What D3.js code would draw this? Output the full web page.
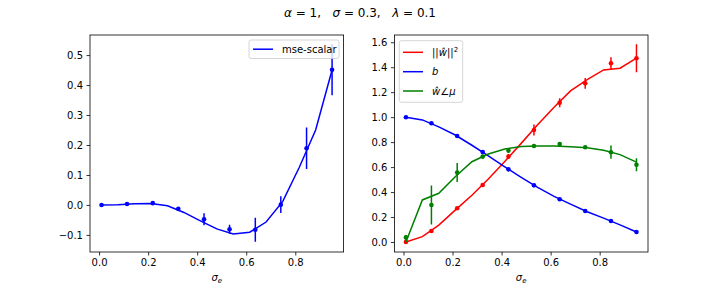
<!DOCTYPE html>
<html>
<head>
<meta charset="utf-8">
<script src="https://cdn.jsdelivr.net/npm/d3@7"></script>
<style>
  body { margin: 0; background: #fff; }
  text { font-family: "DejaVu Sans", sans-serif; }
</style>
</head>
<body>
<div id="chart"></div>
<script>
// sigma_e grid for theory curves and for the simulated points
const lineX = [0.01, 0.077, 0.144, 0.211, 0.279, 0.346, 0.413, 0.48, 0.547, 0.614, 0.681, 0.749, 0.816, 0.883, 0.95];
const pointX = [0.01, 0.114, 0.219, 0.323, 0.428, 0.532, 0.637, 0.741, 0.846, 0.95];

// left panel: mse-scalar
const mseLine = [0.0, 0.001, 0.004, 0.005, -0.003, -0.025, -0.053, -0.08, -0.097, -0.091, -0.057, 0.012, 0.125, 0.25, 0.45];
const msePts = [0.0, 0.003, 0.006, -0.013, -0.048, -0.081, -0.083, 0.001, 0.189, 0.451];
const mseErr = [0.003, 0.003, 0.003, 0.005, 0.02, 0.015, 0.04, 0.028, 0.069, 0.085];

// right panel
const normLine = [0.0, 0.043, 0.135, 0.255, 0.375, 0.505, 0.645, 0.79, 0.94, 1.08, 1.21, 1.30, 1.378, 1.392, 1.472];
const normPts = [0.0, 0.088, 0.27, 0.457, 0.684, 0.897, 1.116, 1.271, 1.432, 1.472];
const normErr = [0.01, 0.01, 0.01, 0.01, 0.02, 0.044, 0.036, 0.043, 0.048, 0.112];

const bLine = [1.0, 0.978, 0.922, 0.857, 0.775, 0.69, 0.602, 0.518, 0.438, 0.366, 0.303, 0.242, 0.191, 0.137, 0.08];
const bPts = [0.999, 0.951, 0.849, 0.721, 0.582, 0.454, 0.342, 0.248, 0.168, 0.08];
const bErr = [0.004, 0.004, 0.004, 0.004, 0.004, 0.004, 0.004, 0.004, 0.004, 0.004];

const angLine = [0.0, 0.337, 0.39, 0.523, 0.643, 0.705, 0.745, 0.764, 0.768, 0.768, 0.762, 0.755, 0.735, 0.70, 0.64];
const angPts = [0.037, 0.296, 0.556, 0.684, 0.732, 0.769, 0.785, 0.759, 0.719, 0.619];
const angErr = [0.02, 0.156, 0.076, 0.015, 0.02, 0.01, 0.01, 0.01, 0.053, 0.052];

const width = 720, height = 288;
const svg = d3.select('#chart').append('svg')
    .attr('width', width)
    .attr('height', height);

// suptitle
const title = svg.append('text')
    .attr('x', 360).attr('y', 17)
    .attr('text-anchor', 'middle')
    .attr('font-size', 12)
    .attr('xml:space', 'preserve');
[['α', true], [' = 1,   ', false], ['σ', true], [' = 0.3,   ', false], ['λ', true], [' = 0.1', false]]
    .forEach(([t, it]) => title.append('tspan').attr('font-style', it ? 'italic' : null).text(t));

function panel(x0, x1, yDomain, yTicks, series) {
    const top = 35, bottom = 252;
    const x = d3.scaleLinear().domain([-0.037, 0.997]).range([x0, x1]);
    const y = d3.scaleLinear().domain(yDomain).range([bottom, top]);
    const g = svg.append('g');

    const xAxis = g.append('g').attr('transform', `translate(0,${bottom})`)
        .call(d3.axisBottom(x).tickValues([0, 0.2, 0.4, 0.6, 0.8]).tickFormat(d3.format('.1f')).tickSizeOuter(0).tickSize(3.5).tickPadding(3.5));
    const yAxis = g.append('g').attr('transform', `translate(${x0},0)`)
        .call(d3.axisLeft(y).tickValues(yTicks).tickFormat(d => d3.format('.1f')(d).replace('-', '\u2212')).tickSizeOuter(0).tickSize(3.5).tickPadding(3.5));
    [xAxis, yAxis].forEach(a => {
        a.select('.domain').remove();
        a.selectAll('text').attr('font-size', 10).attr('fill', '#000').attr('font-family', '"DejaVu Sans", sans-serif');
        a.selectAll('line').attr('stroke', '#000').attr('stroke-width', 0.8);
    });

    const clip = 'clip' + x0;
    svg.append('clipPath').attr('id', clip).append('rect')
        .attr('x', x0).attr('y', top).attr('width', x1 - x0).attr('height', bottom - top);
    const plot = g.append('g').attr('clip-path', `url(#${clip})`);

    const line = d3.line().x(d => x(d[0])).y(d => y(d[1]));
    series.forEach(s => {
        plot.append('path')
            .datum(lineX.map((v, i) => [v, s.line[i]]))
            .attr('d', line)
            .attr('fill', 'none')
            .attr('stroke', s.color)
            .attr('stroke-width', 1.5);
        plot.selectAll(null).data(pointX).join('line')
            .attr('x1', d => x(d)).attr('x2', d => x(d))
            .attr('y1', (d, i) => y(s.pts[i] - s.err[i]))
            .attr('y2', (d, i) => y(s.pts[i] + s.err[i]))
            .attr('stroke', s.color)
            .attr('stroke-width', 1.5);
        plot.selectAll(null).data(pointX).join('circle')
            .attr('cx', d => x(d))
            .attr('cy', (d, i) => y(s.pts[i]))
            .attr('r', 2.3)
            .attr('fill', s.color);
    });

    g.append('rect')
        .attr('x', x0).attr('y', top).attr('width', x1 - x0).attr('height', bottom - top)
        .attr('fill', 'none').attr('stroke', '#000').attr('stroke-width', 0.8);

    // x label sigma_e
    const xl = g.append('text')
        .attr('x', (x0 + x1) / 2).attr('y', 281)
        .attr('text-anchor', 'middle')
        .attr('font-size', 10);
    xl.append('tspan').attr('font-style', 'italic').text('σ');
    xl.append('tspan').attr('font-style', 'italic').attr('font-size', 7).attr('dy', 2).text('e');

    return g;
}

panel(90, 343.6, [-0.157, 0.567], [-0.1, 0, 0.1, 0.2, 0.3, 0.4, 0.5],
    [{ color: '#0000ff', line: mseLine, pts: msePts, err: mseErr }]);

const right = panel(394.4, 648, [-0.08, 1.658], [0, 0.2, 0.4, 0.6, 0.8, 1.0, 1.2, 1.4, 1.6], [
    { color: '#ff0000', line: normLine, pts: normPts, err: normErr },
    { color: '#0000ff', line: bLine, pts: bPts, err: bErr },
    { color: '#008000', line: angLine, pts: angPts, err: angErr }
]);

// legends
function legendBox(x, y, w, h) {
    svg.append('rect')
        .attr('x', x).attr('y', y).attr('width', w).attr('height', h)
        .attr('rx', 2).attr('fill', '#fff').attr('fill-opacity', 0.8)
        .attr('stroke', '#cccccc').attr('stroke-width', 0.8);
}
function legendEntry(x, y, color, parts) {
    svg.append('line')
        .attr('x1', x).attr('x2', x + 20).attr('y1', y).attr('y2', y)
        .attr('stroke', color).attr('stroke-width', 1.5);
    const t = svg.append('text').attr('x', x + 29).attr('y', y + 3.5).attr('font-size', 10);
    parts.forEach(p => {
        const ts = t.append('tspan').text(p.t);
        if (p.it) ts.attr('font-style', 'italic');
        if (p.sup) ts.attr('font-size', 7).attr('dy', -4);
    });
}

legendBox(249, 40, 90, 18.5);
legendEntry(253, 49.2, '#0000ff', [{ t: 'mse-scalar' }]);

legendBox(399.3, 40.7, 63.4, 61.6);
legendEntry(403, 52.3, '#ff0000', [{ t: '||' }, { t: 'w\u0302', it: true }, { t: '||' }, { t: '2', sup: true }]);
legendEntry(403, 71.7, '#0000ff', [{ t: 'b', it: true }]);
legendEntry(403, 91, '#008000', [{ t: 'w\u0302', it: true }, { t: '∠' }, { t: 'μ', it: true }]);
</script>
</body>
</html>
